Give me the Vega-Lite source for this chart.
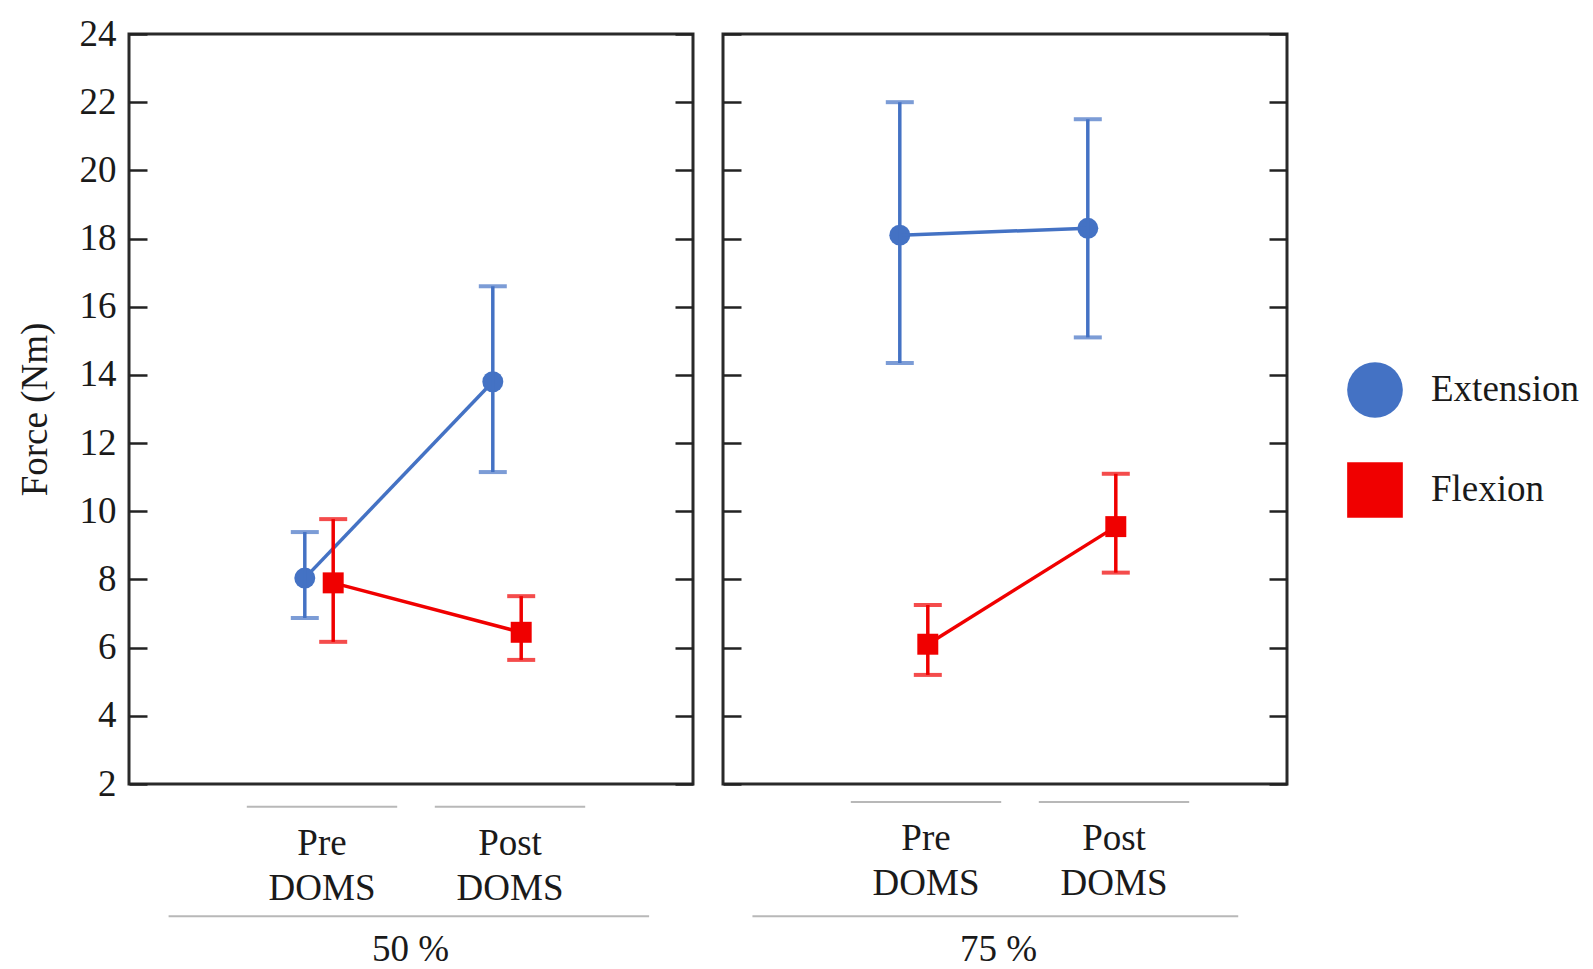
{
  "$schema": "https://vega.github.io/schema/vega-lite/v6.json",
  "padding": {"left": 14, "top": 13, "right": 5, "bottom": 0},
  "background": "white",
  "datasets": {
    "main": [
      {"Load": "50 %", "Condition": "Pre DOMS", "Series": "Extension", "Mean": 8.04, "Lower": 6.87, "Upper": 9.39},
      {"Load": "50 %", "Condition": "Post DOMS", "Series": "Extension", "Mean": 13.8, "Lower": 11.15, "Upper": 16.6},
      {"Load": "50 %", "Condition": "Pre DOMS", "Series": "Flexion", "Mean": 7.9, "Lower": 6.17, "Upper": 9.77},
      {"Load": "50 %", "Condition": "Post DOMS", "Series": "Flexion", "Mean": 6.45, "Lower": 5.64, "Upper": 7.51},
      {"Load": "75 %", "Condition": "Pre DOMS", "Series": "Extension", "Mean": 18.1, "Lower": 14.35, "Upper": 22.0},
      {"Load": "75 %", "Condition": "Post DOMS", "Series": "Extension", "Mean": 18.3, "Lower": 15.1, "Upper": 21.5},
      {"Load": "75 %", "Condition": "Pre DOMS", "Series": "Flexion", "Mean": 6.1, "Lower": 5.2, "Upper": 7.25},
      {"Load": "75 %", "Condition": "Post DOMS", "Series": "Flexion", "Mean": 9.55, "Lower": 8.2, "Upper": 11.1}
    ]
  },
  "data": {"name": "main"},
  "spacing": 24,
  "resolve": {"scale": {"color": "shared", "shape": "shared", "y": "shared", "x": "independent", "xOffset": "independent"}},
  "hconcat": [
    {
      "width": 564,
      "height": 750,
      "transform": [{"filter": "datum.Load === '50 %'"}],
      "resolve": {"axis": {"y": "independent"}},
      "layer": [
        {
          "mark": {"type": "point", "filled": true, "size": 440, "opacity": 1},
          "encoding": {
            "x": {"field": "Condition", "type": "nominal", "sort": ["Pre DOMS", "Post DOMS"], "scale": {"paddingInner": 0.2, "paddingOuter": 0.6, "range": [5, 569]}, "title": "50 %",
              "axis": {"titleX": 281}},
            "xOffset": {"field": "Series", "type": "nominal", "sort": ["Extension", "Flexion"], "scale": {"paddingInner": 0, "paddingOuter": 0, "range": [43.8, 100.6]}},
            "y": {"field": "Mean", "type": "quantitative", "scale": {"domain": [2, 24], "nice": false, "zero": false},
              "axis": {"values": [2, 4, 6, 8, 10, 12, 14, 16, 18, 20, 22, 24], "title": "Force (Nm)", "domain": false, "ticks": true, "tickSize": -18, "tickWidth": 2.5, "tickColor": "#222", "labelPadding": 31, "titlePadding": 25}},
            "color": {"field": "Series", "type": "nominal", "title": null, "scale": {"domain": ["Extension", "Flexion"], "range": ["#4472C4", "#F00000"]},
              "legend": {"orient": "none", "legendX": 1218, "legendY": 328}},
            "shape": {"field": "Series", "type": "nominal", "title": null, "scale": {"domain": ["Extension", "Flexion"], "range": ["circle", "square"]},
              "legend": {"orient": "none", "legendX": 1218, "legendY": 328}}
          }
        },
        {
          "mark": {"type": "line", "strokeWidth": 3.5},
          "encoding": {
            "x": {"field": "Condition", "type": "nominal", "sort": ["Pre DOMS", "Post DOMS"]},
            "xOffset": {"field": "Series", "type": "nominal", "sort": ["Extension", "Flexion"]},
            "y": {"field": "Mean", "type": "quantitative",
              "axis": {"orient": "right", "values": [2, 4, 6, 8, 10, 12, 14, 16, 18, 20, 22, 24], "labels": false, "title": null, "domain": false, "ticks": true, "tickSize": -18, "tickWidth": 2.5, "tickColor": "#222", "minExtent": 0}},
            "color": {"field": "Series", "type": "nominal"}
          }
        },
        {
          "mark": {"type": "rule", "strokeWidth": 3.5},
          "encoding": {
            "x": {"field": "Condition", "type": "nominal", "sort": ["Pre DOMS", "Post DOMS"]},
            "xOffset": {"field": "Series", "type": "nominal", "sort": ["Extension", "Flexion"]},
            "y": {"field": "Lower", "type": "quantitative", "axis": null},
            "y2": {"field": "Upper"},
            "color": {"field": "Series", "type": "nominal"}
          }
        },
        {
          "mark": {"type": "tick", "size": 28, "thickness": 4, "orient": "horizontal"},
          "encoding": {
            "x": {"field": "Condition", "type": "nominal", "sort": ["Pre DOMS", "Post DOMS"]},
            "xOffset": {"field": "Series", "type": "nominal", "sort": ["Extension", "Flexion"]},
            "y": {"field": "Upper", "type": "quantitative", "axis": null},
            "color": {"field": "Series", "type": "nominal"}
          }
        },
        {
          "mark": {"type": "tick", "size": 28, "thickness": 4, "orient": "horizontal"},
          "encoding": {
            "x": {"field": "Condition", "type": "nominal", "sort": ["Pre DOMS", "Post DOMS"]},
            "xOffset": {"field": "Series", "type": "nominal", "sort": ["Extension", "Flexion"]},
            "y": {"field": "Lower", "type": "quantitative", "axis": null},
            "color": {"field": "Series", "type": "nominal"}
          }
        },
        {
          "transform": [{"filter": "datum.Series === 'Extension'"}],
          "mark": {"type": "rule", "strokeWidth": 2, "color": "#b8b8b8"},
          "encoding": {
            "x": {"field": "Condition", "type": "nominal", "sort": ["Pre DOMS", "Post DOMS"], "bandPosition": 0},
            "x2": {"field": "Condition", "bandPosition": 1},
            "y": {"datum": 1.33, "type": "quantitative", "axis": null}
          }
        },
        {
          "transform": [{"filter": "datum.Series === 'Extension' && datum.Condition === 'Pre DOMS'"}],
          "mark": {"type": "rule", "strokeWidth": 2, "color": "#b8b8b8"},
          "encoding": {
            "x": {"datum": "Pre DOMS", "type": "nominal", "bandPosition": -0.52},
            "x2": {"datum": "Post DOMS", "bandPosition": 1.425},
            "y": {"datum": -1.88, "type": "quantitative", "axis": null}
          }
        }
      ]
    },
    {
      "width": 564,
      "height": 750,
      "transform": [{"filter": "datum.Load === '75 %'"}],
      "resolve": {"axis": {"y": "independent"}},
      "layer": [
        {
          "mark": {"type": "point", "filled": true, "size": 440, "opacity": 1},
          "encoding": {
            "x": {"field": "Condition", "type": "nominal", "sort": ["Pre DOMS", "Post DOMS"], "scale": {"paddingInner": 0.2, "paddingOuter": 0.6, "range": [15, 579]}, "title": "75 %",
              "axis": {"labelPadding": 36, "titlePadding": 30, "titleX": 275}},
            "xOffset": {"field": "Series", "type": "nominal", "sort": ["Extension", "Flexion"], "scale": {"paddingInner": 0, "paddingOuter": 0, "range": [35, 91]}},
            "y": {"field": "Mean", "type": "quantitative", "scale": {"domain": [2, 24], "nice": false, "zero": false},
              "axis": {"values": [2, 4, 6, 8, 10, 12, 14, 16, 18, 20, 22, 24], "labels": false, "title": null, "domain": false, "ticks": true, "tickSize": -18, "tickWidth": 2.5, "tickColor": "#222", "minExtent": 0}},
            "color": {"field": "Series", "type": "nominal", "title": null},
            "shape": {"field": "Series", "type": "nominal", "title": null}
          }
        },
        {
          "mark": {"type": "line", "strokeWidth": 3.5},
          "encoding": {
            "x": {"field": "Condition", "type": "nominal", "sort": ["Pre DOMS", "Post DOMS"]},
            "xOffset": {"field": "Series", "type": "nominal", "sort": ["Extension", "Flexion"]},
            "y": {"field": "Mean", "type": "quantitative",
              "axis": {"orient": "right", "values": [2, 4, 6, 8, 10, 12, 14, 16, 18, 20, 22, 24], "labels": false, "title": null, "domain": false, "ticks": true, "tickSize": -18, "tickWidth": 2.5, "tickColor": "#222", "minExtent": 0}},
            "color": {"field": "Series", "type": "nominal"}
          }
        },
        {
          "mark": {"type": "rule", "strokeWidth": 3.5},
          "encoding": {
            "x": {"field": "Condition", "type": "nominal", "sort": ["Pre DOMS", "Post DOMS"]},
            "xOffset": {"field": "Series", "type": "nominal", "sort": ["Extension", "Flexion"]},
            "y": {"field": "Lower", "type": "quantitative", "axis": null},
            "y2": {"field": "Upper"},
            "color": {"field": "Series", "type": "nominal"}
          }
        },
        {
          "mark": {"type": "tick", "size": 28, "thickness": 4, "orient": "horizontal"},
          "encoding": {
            "x": {"field": "Condition", "type": "nominal", "sort": ["Pre DOMS", "Post DOMS"]},
            "xOffset": {"field": "Series", "type": "nominal", "sort": ["Extension", "Flexion"]},
            "y": {"field": "Upper", "type": "quantitative", "axis": null},
            "color": {"field": "Series", "type": "nominal"}
          }
        },
        {
          "mark": {"type": "tick", "size": 28, "thickness": 4, "orient": "horizontal"},
          "encoding": {
            "x": {"field": "Condition", "type": "nominal", "sort": ["Pre DOMS", "Post DOMS"]},
            "xOffset": {"field": "Series", "type": "nominal", "sort": ["Extension", "Flexion"]},
            "y": {"field": "Lower", "type": "quantitative", "axis": null},
            "color": {"field": "Series", "type": "nominal"}
          }
        },
        {
          "transform": [{"filter": "datum.Series === 'Extension'"}],
          "mark": {"type": "rule", "strokeWidth": 2, "color": "#b8b8b8"},
          "encoding": {
            "x": {"field": "Condition", "type": "nominal", "sort": ["Pre DOMS", "Post DOMS"], "bandPosition": 0},
            "x2": {"field": "Condition", "bandPosition": 1},
            "y": {"datum": 1.47, "type": "quantitative", "axis": null}
          }
        },
        {
          "transform": [{"filter": "datum.Series === 'Extension' && datum.Condition === 'Pre DOMS'"}],
          "mark": {"type": "rule", "strokeWidth": 2, "color": "#b8b8b8"},
          "encoding": {
            "x": {"datum": "Pre DOMS", "type": "nominal", "bandPosition": -0.654},
            "x2": {"datum": "Post DOMS", "bandPosition": 1.326},
            "y": {"datum": -1.88, "type": "quantitative", "axis": null}
          }
        }
      ]
    }
  ],
  "config": {
    "view": {"stroke": "#2a2a2a", "strokeWidth": 3},
    "font": "Liberation Serif",
    "axis": {
      "grid": false,
      "labelFont": "Liberation Serif",
      "labelFontSize": 37,
      "labelColor": "#1a1a1a",
      "titleFont": "Liberation Serif",
      "titleFontSize": 37,
      "titleFontWeight": "normal",
      "titleColor": "#1a1a1a"
    },
    "axisX": {
      "domain": false,
      "ticks": false,
      "labelAngle": 0,
      "labelExpr": "split(datum.label, ' ')",
      "labelLineHeight": 45,
      "labelPadding": 41,
      "titlePadding": 25
    },
    "legend": {
      "labelFont": "Liberation Serif",
      "labelFontSize": 37,
      "labelColor": "#1a1a1a",
      "symbolSize": 3100,
      "symbolStrokeWidth": 0,
      "rowPadding": 44,
      "labelOffset": 28,
      "padding": 0
    }
  }
}
